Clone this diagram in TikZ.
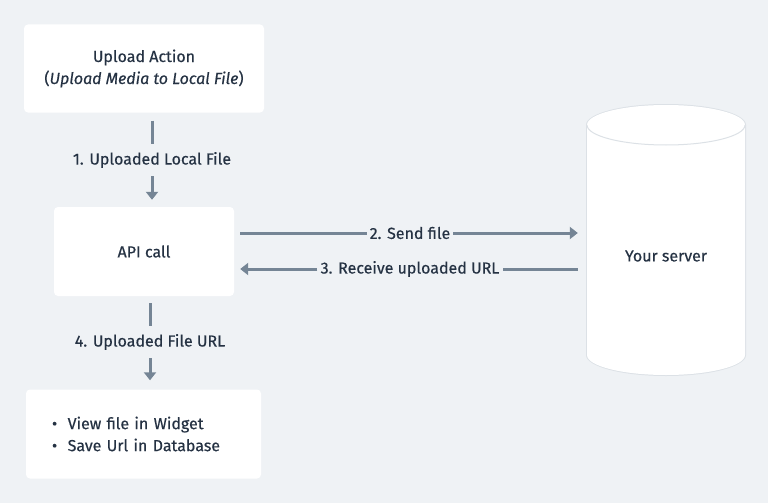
\documentclass[tikz,border=0pt]{standalone}
\usepackage{fontspec}
\setmainfont{Fira Sans}[UprightFeatures={FakeBold=0.4}, ItalicFeatures={FakeBold=0.4}]
\usetikzlibrary{arrows.meta}
\definecolor{bgcol}{HTML}{EFF2F5}
\definecolor{inkcol}{HTML}{253243}
\definecolor{flowcol}{HTML}{758595}
\definecolor{rimcol}{HTML}{DCE1E6}
\tikzset{
  card/.style={fill=white, rounded corners=4pt, inner sep=0pt, align=center},
  flow/.style={draw=flowcol, line width=3pt},
  flowtip/.style={flow, -{Triangle[length=8pt,width=12pt]}},
  lbl/.style={inner xsep=3pt, inner ysep=8pt}
}
\begin{document}
\begin{tikzpicture}[x=1pt, y=-1pt, font=\fontsize{16pt}{22pt}\selectfont, text=inkcol]
\useasboundingbox[fill=bgcol] (0,0) rectangle (768,503);
% boxes
\node[card, minimum width=240pt, minimum height=88pt] (upload) at (144,68.5)
  {Upload Action\\(\textit{Upload Media to Local File})};
\node[card, minimum width=180pt, minimum height=89pt] (api) at (144,251.5) {API call};
\node[card, minimum height=89pt, inner xsep=26pt, text width=183pt, align=left] (result) at (143.5,434)
  {\textbullet\hspace{10.5pt}View file in Widget\\\textbullet\hspace{10.5pt}Save Url in Database};
% server
\fill[rimcol] (586,125) -- (586,355) arc[start angle=180, end angle=0, x radius=80, y radius=21]
  -- (746,125) arc[start angle=360, end angle=180, x radius=80, y radius=21] -- cycle;
\fill[white] (587,125) -- (587,355) arc[start angle=180, end angle=0, x radius=79, y radius=20]
  -- (745,125) arc[start angle=360, end angle=180, x radius=79, y radius=20] -- cycle;
\draw[rimcol, line width=1pt] (587,125) arc[start angle=180, end angle=0, x radius=79, y radius=20];
\node[minimum width=158pt, inner sep=0pt] (server) at (666,256) {Your server};
% labels
\node[lbl] (step1) at (152,160) {1. Uploaded Local File};
\node[lbl] (step2) at (410,233) {2. Send file};
\node[lbl] (step3) at (410,269) {3. Receive uploaded URL};
\node[lbl] (step4) at (150,342) {4. Uploaded File URL};
% connectors
\draw[flow, shorten <=8pt] (step1 |- upload.south) -- (step1);
\draw[flowtip, shorten >=7pt] (step1) -- (step1 |- api.north);
\draw[flow, shorten <=6pt] (step2 -| api.east) -- (step2);
\draw[flowtip, shorten >=9pt] (step2) -- (step2 -| server.west);
\draw[flow, shorten <=9pt] (step3 -| server.west) -- (step3);
\draw[flowtip, shorten >=6pt] (step3) -- (step3 -| api.east);
\draw[flow, shorten <=7pt] (step4 |- api.south) -- (step4);
\draw[flowtip, shorten >=9pt] (step4) -- (step4 |- result.north);
\end{tikzpicture}
\end{document}
